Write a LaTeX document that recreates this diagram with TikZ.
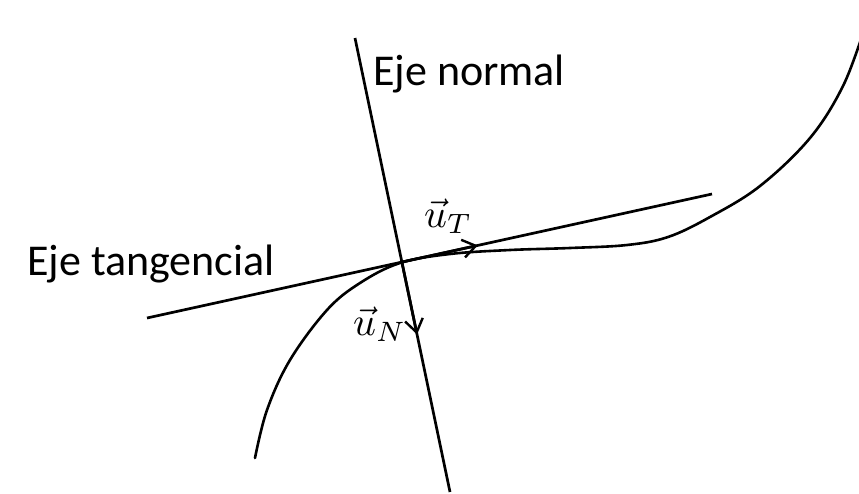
\documentclass[tikz,border=0pt]{standalone}
\usepackage{fontspec}
\setmainfont{Carlito}
\usetikzlibrary{arrows.meta,calc,intersections}
\begin{document}
\begin{tikzpicture}[x=1pt,y=-1pt,
  axis/.style={line width=2.7pt},
  curve/.style={line width=2.6pt, line cap=round},
  vecarrow/.style={line width=2.7pt, -{Straight Barb[length=13pt,width=18pt,line width=2.4pt]}},
  lbl/.style={inner sep=0pt, font=\fontsize{44}{50}\selectfont},
  mlbl/.style={inner sep=0pt}]
\useasboundingbox (0,0) rectangle (859,493);
\coordinate (T1) at (147,318);
\coordinate (T2) at (712,194);
\coordinate (N1) at (355,38);
\coordinate (N2) at (450,492);
\draw[axis, name path=tang] (T1) -- (T2);
\draw[axis, name path=norm] (N1) -- (N2);
\path[name intersections={of=tang and norm, by=P}];
\draw[curve] plot[smooth, tension=0.6] coordinates {(255,458) (267,410) (290,360) (327,310) (360,283) (400,263) (450,254) (510,250) (570,248) (627,245) (668,237) (710,217) (760,186) (810,138) (843,86) (864,30)};
\coordinate (UT) at ($(P)!0.245!(T2)$);
\coordinate (UN) at ($(P)!0.315!(N2)$);
\draw[vecarrow] (P) -- (UT);
\draw[vecarrow] (P) -- (UN);
\node[lbl, anchor=base west] (lnormal) at (373,85) {Eje normal};
\node[lbl, anchor=base west] (ltang) at (27,275) {Eje tangencial};
\node[mlbl, anchor=base west] (luT) at (424,227) {\scalebox{4.0}{$\vec{u}_T$}};
\node[mlbl, anchor=base west] (luN) at (353,335) {\scalebox{4.0}{$\vec{u}_N$}};
\end{tikzpicture}
\end{document}
